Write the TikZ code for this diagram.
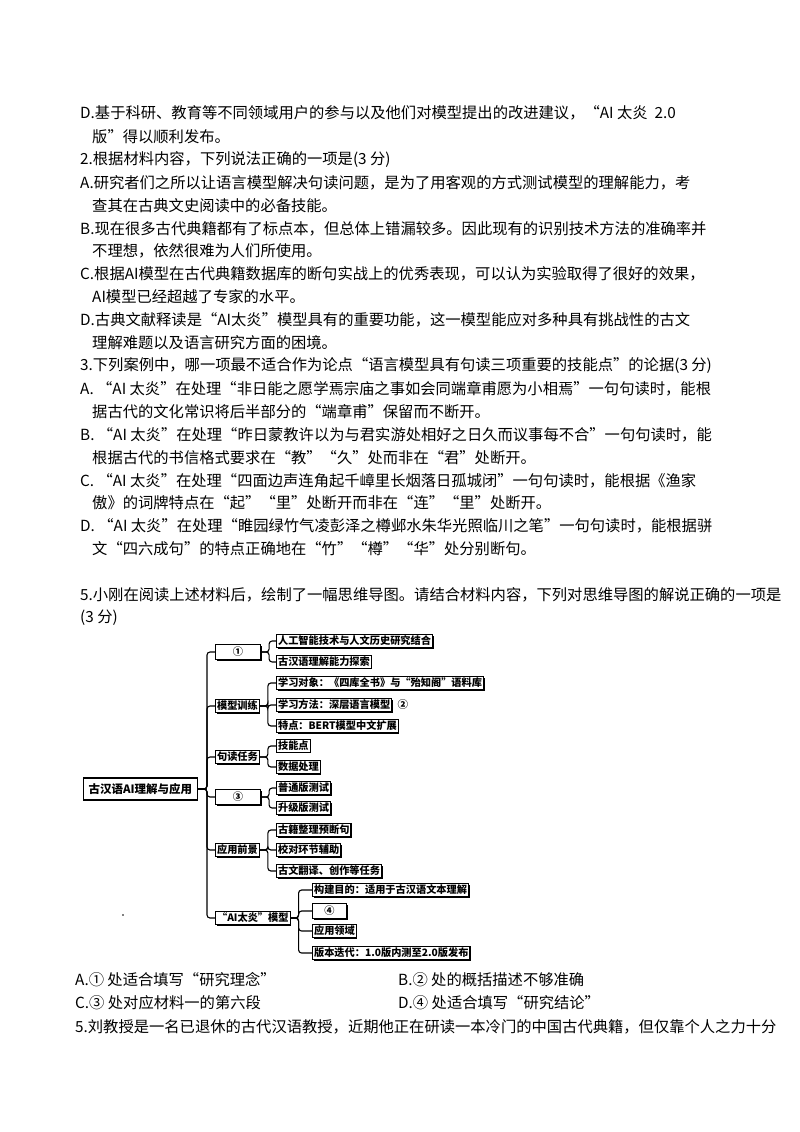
\documentclass[tikz,border=0pt]{standalone}
\usepackage{fontspec}
\setmainfont{Noto Sans CJK SC}
\usetikzlibrary{shadows}
\begin{document}
\begin{tikzpicture}[x=1pt,y=-1pt,
  tl/.style={anchor=west,inner sep=0pt,font=\fontsize{15.3}{18}\selectfont},
  mb/.style={draw,line width=1.1pt,fill=white,inner xsep=1.5pt,inner ysep=1.5pt,font=\fontsize{10.2}{11}\selectfont\bfseries,anchor=west,
    drop shadow={shadow xshift=1.1pt,shadow yshift=-1.1pt,fill=black,opacity=1}},
  cn/.style={line width=1.1pt,rounded corners=3pt}]
\useasboundingbox (0,0) rectangle (800,1132);
\fill[white] (0,0) rectangle (800,1132);
\node[tl] (l1) at (80,113) {D.基于科研、教育等不同领域用户的参与以及他们对模型提出的改进建议，“AI 太炎\ \ 2.0};
\node[tl] (l2) at (92,137) {版”得以顺利发布。};
\node[tl] (l3) at (80,160) {2.根据材料内容，下列说法正确的一项是(3 分)};
\node[tl] (l4) at (80,183) {A.研究者们之所以让语言模型解决句读问题，是为了用客观的方式测试模型的理解能力，考};
\node[tl] (l5) at (92,206) {查其在古典文史阅读中的必备技能。};
\node[tl] (l6) at (80,229) {B.现在很多古代典籍都有了标点本，但总体上错漏较多。因此现有的识别技术方法的准确率并};
\node[tl] (l7) at (92,251) {不理想，依然很难为人们所使用。};
\node[tl] (l8) at (80,274) {C.根据AI模型在古代典籍数据库的断句实战上的优秀表现，可以认为实验取得了很好的效果，};
\node[tl] (l9) at (92,297) {AI模型已经超越了专家的水平。};
\node[tl] (l10) at (80,320) {D.古典文献释读是“AI太炎”模型具有的重要功能，这一模型能应对多种具有挑战性的古文};
\node[tl] (l11) at (92,343) {理解难题以及语言研究方面的困境。};
\node[tl] (l12) at (80,366) {3.下列案例中，哪一项最不适合作为论点“语言模型具有句读三项重要的技能点”的论据(3 分)};
\node[tl] (l13) at (80,389) {A. “AI 太炎”在处理“非日能之愿学焉宗庙之事如会同端章甫愿为小相焉”一句句读时，能根};
\node[tl] (l14) at (92,412) {据古代的文化常识将后半部分的“端章甫”保留而不断开。};
\node[tl] (l15) at (80,435) {B. “AI 太炎”在处理“昨日蒙教许以为与君实游处相好之日久而议事每不合”一句句读时，能};
\node[tl] (l16) at (92,458) {根据古代的书信格式要求在“教”“久”处而非在“君”处断开。};
\node[tl] (l17) at (80,481) {C. “AI 太炎”在处理“四面边声连角起千嶂里长烟落日孤城闭”一句句读时，能根据《渔家};
\node[tl] (l18) at (92,503) {傲》的词牌特点在“起”“里”处断开而非在“连”“里”处断开。};
\node[tl] (l19) at (80,526) {D. “AI 太炎”在处理“睢园绿竹气凌彭泽之樽邺水朱华光照临川之笔”一句句读时，能根据骈};
\node[tl] (l20) at (92,549) {文“四六成句”的特点正确地在“竹”“樽”“华”处分别断句。};
\node[tl] (l21) at (80,595) {5.小刚在阅读上述材料后，绘制了一幅思维导图。请结合材料内容，下列对思维导图的解说正确的一项是};
\node[tl] (l22) at (80,618) {(3 分)};
\node[tl] (oA) at (75,980) {A.① 处适合填写“研究理念”};
\node[tl] (oB) at (398,980) {B.② 处的概括描述不够准确};
\node[tl] (oC) at (75,1003) {C.③ 处对应材料一的第六段};
\node[tl] (oD) at (398,1003) {D.④ 处适合填写“研究结论”};
\node[tl] (l23) at (75,1027) {5.刘教授是一名已退休的古代汉语教授，近期他正在研读一本冷门的中国古代典籍，但仅靠个人之力十分};
% mind map
\node[mb,minimum height=22pt,inner xsep=5pt,font=\fontsize{11.5}{13}\selectfont\bfseries] (root) at (83,789) {古汉语AI理解与应用};
\node[mb,minimum width=45pt,minimum height=15pt] (b1) at (215,652) {①};
\node[mb] (b2) at (215,706) {模型训练};
\node[mb] (b3) at (215,757) {句读任务};
\node[mb,minimum width=45pt,minimum height=15pt] (b4) at (215,797) {③};
\node[mb] (b5) at (215,850) {应用前景};
\node[mb] (b6) at (215,918) {“AI太炎”模型};
\coordinate (tr) at (207,789);
\foreach \b in {b1,b2,b3,b4,b5,b6}{\draw[cn] (root.east) -- (tr) |- (\b.west);}
\node[mb] (c1) at (276,641) {人工智能技术与人文历史研究结合};
\node[mb] (c2) at (276,662) {古汉语理解能力探索};
\node[mb] (c3) at (276,683) {学习对象：《四库全书》与“殆知阁”语料库};
\node[mb] (c4) at (276,705) {学习方法：深层语言模型};
\node[anchor=west,inner sep=0pt,font=\fontsize{10.5}{11}\selectfont\bfseries] (n2) at (c4.east) [xshift=5pt] {②};
\node[mb] (c5) at (276,726) {特点：BERT模型中文扩展};
\node[mb] (c6) at (276,746) {技能点};
\node[mb] (c7) at (276,767) {数据处理};
\node[mb] (c8) at (276,788) {普通版测试};
\node[mb] (c9) at (276,808) {升级版测试};
\node[mb] (c10) at (276,830) {古籍整理预断句};
\node[mb] (c11) at (276,850) {校对环节辅助};
\node[mb] (c12) at (276,871) {古文翻译、创作等任务};
\node[mb] (d1) at (312,890) {构建目的：适用于古汉语文本理解};
\node[mb,minimum width=34pt,minimum height=15pt] (d2) at (312,911) {④};
\node[mb] (d3) at (312,931) {应用领域};
\node[mb] (d4) at (312,953) {版本迭代：1.0版内测至2.0版发布};
\foreach \p/\cs in {b1/{c1,c2},b2/{c3,c4,c5},b3/{c6,c7},b4/{c8,c9},b5/{c10,c11,c12}}{
  \foreach \c in \cs {\draw[cn] (\p.east) -- ++(8,0) |- (\c.west);}}
\foreach \c in {d1,d2,d3,d4}{\draw[cn] (b6.east) -- ++(8,0) |- (\c.west);}
\fill (123,915) circle (0.8);
\end{tikzpicture}
\end{document}
